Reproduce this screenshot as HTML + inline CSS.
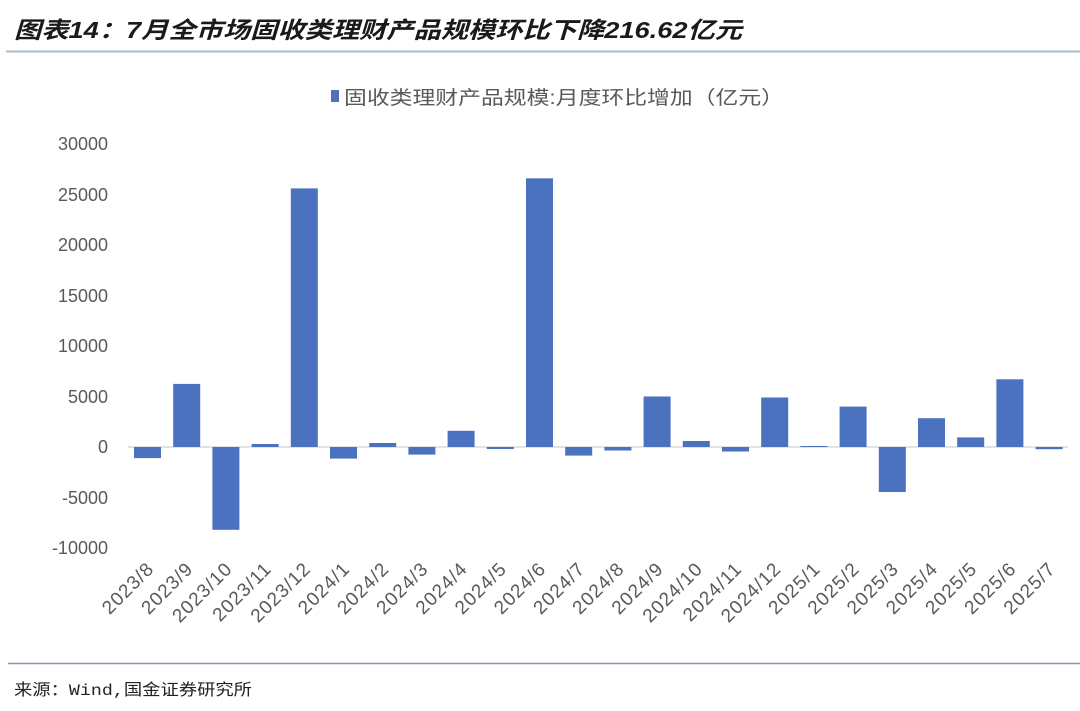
<!DOCTYPE html>
<html><head><meta charset="utf-8"><style>
body{margin:0;background:#fff;}
</style></head><body>
<svg width="1080" height="711" xmlns="http://www.w3.org/2000/svg" style="display:block">
<text x="14" y="38" textLength="728" lengthAdjust="spacingAndGlyphs" font-family="Liberation Sans,'Noto Sans CJK SC',sans-serif" font-size="23" font-weight="bold" font-style="italic" fill="#1a1a1a">图表14：7月全市场固收类理财产品规模环比下降216.62亿元</text>
<line x1="6" y1="51.5" x2="1080" y2="51.5" stroke="#a9bccf" stroke-width="2"/>
<rect x="331" y="90" width="8" height="12" fill="#4a72be"/>
<text x="344" y="104" textLength="440" lengthAdjust="spacingAndGlyphs" font-family="Liberation Sans,'Noto Sans CJK SC',sans-serif" font-size="19" fill="#595959">固收类理财产品规模:月度环比增加（亿元）</text>
<g font-family="Liberation Sans,sans-serif" font-size="18" fill="#595959" text-anchor="end">
<text x="108" y="150">30000</text><text x="108" y="201">25000</text><text x="108" y="251">20000</text><text x="108" y="302">15000</text><text x="108" y="352">10000</text><text x="108" y="403">5000</text><text x="108" y="453">0</text><text x="108" y="504">-5000</text><text x="108" y="554">-10000</text>
</g>
<line x1="128" y1="447" x2="1068" y2="447" stroke="#d9d9d9" stroke-width="1.5"/>
<g fill="#4a72be">
<rect x="134" y="447" width="27" height="11.1"/>
<rect x="173.2" y="383.9" width="27" height="63.1"/>
<rect x="212.4" y="447" width="27" height="82.8"/>
<rect x="251.6" y="444" width="27" height="3"/>
<rect x="290.8" y="188.4" width="27" height="258.6"/>
<rect x="330" y="447" width="27" height="11.6"/>
<rect x="369.2" y="443" width="27" height="4"/>
<rect x="408.4" y="447" width="27" height="7.6"/>
<rect x="447.6" y="430.8" width="27" height="16.2"/>
<rect x="486.8" y="447" width="27" height="2"/>
<rect x="526" y="178.3" width="27" height="268.7"/>
<rect x="565.2" y="447" width="27" height="8.6"/>
<rect x="604.4" y="447" width="27" height="3.5"/>
<rect x="643.6" y="396.5" width="27" height="50.5"/>
<rect x="682.8" y="441" width="27" height="6"/>
<rect x="722" y="447" width="27" height="4.5"/>
<rect x="761.2" y="397.5" width="27" height="49.5"/>
<rect x="800.4" y="446" width="27" height="1"/>
<rect x="839.6" y="406.6" width="27" height="40.4"/>
<rect x="878.8" y="447" width="27" height="45"/>
<rect x="918" y="418.2" width="27" height="28.8"/>
<rect x="957.2" y="437.4" width="27" height="9.6"/>
<rect x="996.4" y="379.3" width="27" height="67.7"/>
<rect x="1035.6" y="447" width="27" height="2.2"/>
</g>
<g font-family="Liberation Sans,sans-serif" font-size="19" letter-spacing="1" fill="#595959" text-anchor="end">
<text transform="translate(155,570) rotate(-45)">2023/8</text>
<text transform="translate(194.2,570) rotate(-45)">2023/9</text>
<text transform="translate(233.4,570) rotate(-45)">2023/10</text>
<text transform="translate(272.6,570) rotate(-45)">2023/11</text>
<text transform="translate(311.8,570) rotate(-45)">2023/12</text>
<text transform="translate(351,570) rotate(-45)">2024/1</text>
<text transform="translate(390.2,570) rotate(-45)">2024/2</text>
<text transform="translate(429.4,570) rotate(-45)">2024/3</text>
<text transform="translate(468.6,570) rotate(-45)">2024/4</text>
<text transform="translate(507.8,570) rotate(-45)">2024/5</text>
<text transform="translate(547,570) rotate(-45)">2024/6</text>
<text transform="translate(586.2,570) rotate(-45)">2024/7</text>
<text transform="translate(625.4,570) rotate(-45)">2024/8</text>
<text transform="translate(664.6,570) rotate(-45)">2024/9</text>
<text transform="translate(703.8,570) rotate(-45)">2024/10</text>
<text transform="translate(743,570) rotate(-45)">2024/11</text>
<text transform="translate(782.2,570) rotate(-45)">2024/12</text>
<text transform="translate(821.4,570) rotate(-45)">2025/1</text>
<text transform="translate(860.6,570) rotate(-45)">2025/2</text>
<text transform="translate(899.8,570) rotate(-45)">2025/3</text>
<text transform="translate(939,570) rotate(-45)">2025/4</text>
<text transform="translate(978.2,570) rotate(-45)">2025/5</text>
<text transform="translate(1017.4,570) rotate(-45)">2025/6</text>
<text transform="translate(1056.6,570) rotate(-45)">2025/7</text>
</g>
<line x1="8" y1="663.5" x2="1080" y2="663.5" stroke="#8497b0" stroke-width="1.5"/>
<text x="14" y="695" textLength="238" lengthAdjust="spacingAndGlyphs" font-family="Liberation Mono,'Noto Sans CJK SC',monospace" font-size="16" fill="#222">来源：Wind,国金证券研究所</text>
</svg>
</body></html>
